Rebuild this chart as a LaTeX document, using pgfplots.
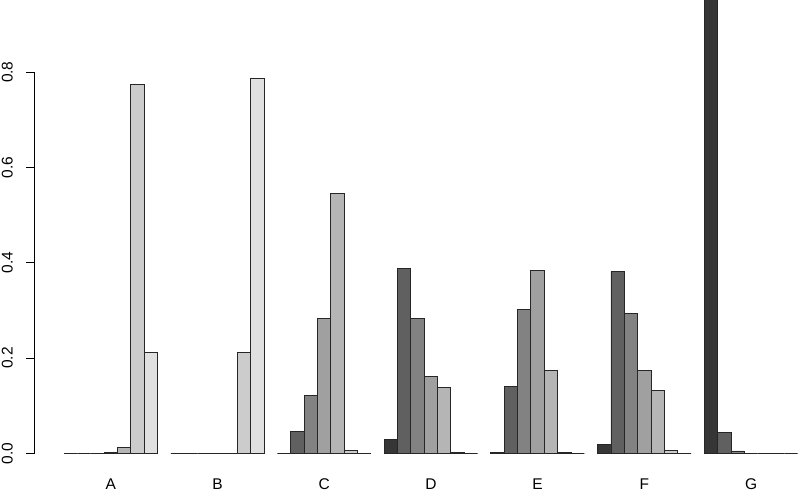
\documentclass[border=0pt]{standalone}
\usepackage{pgfplots}
\pgfplotsset{compat=1.18}
\usepackage{pgfplotstable}
\usepackage{fontspec}
\setmainfont{Liberation Sans}
\usetikzlibrary{calc}

\definecolor{g1}{HTML}{363636}
\definecolor{g2}{HTML}{606060}
\definecolor{g3}{HTML}{828282}
\definecolor{g4}{HTML}{A0A0A0}
\definecolor{g5}{HTML}{B5B5B5}
\definecolor{g6}{HTML}{CCCCCC}
\definecolor{g7}{HTML}{E0E0E0}

% one row per group (A..G), one column per bar
\pgfplotstableread{
grp s1     s2    s3    s4    s5     s6     s7
A   0      0     0     0.002 0.0126 0.775  0.211
B   0      0     0     0     0      0.211  0.787
C   0      0.046 0.122 0.283 0.546  0.007  0
D   0.030  0.389 0.283 0.162 0.138  0.002  0
E   0.002  0.140 0.301 0.384 0.173  0.002  0
F   0.0196 0.382 0.293 0.173 0.132  0.0055 0
G   0.97   0.044 0.005 0     0      0      0
}\probs

\begin{document}
\begin{tikzpicture}
\begin{axis}[
    scale only axis,
    width=765.3pt, height=472.4pt,
    xmin=-1.2, xmax=56.17,
    ymin=-0.04, ymax=0.9515,
    ybar, bar width=1, bar shift=0pt,
    axis line style={draw=none},
    xtick={4.5,12.5,20.5,28.5,36.5,44.5,52.5},
    xticklabels={A,B,C,D,E,F,G},
    xtick style={draw=none},
    xticklabel style={anchor=north, inner sep=0pt},
    xticklabel shift=-2.5pt,
    ytick={0,0.2,0.4,0.6,0.8},
    ytick pos=left,
    tick align=outside,
    major tick length=8.7pt,
    ytick style={black, line width=0.8pt},
    yticklabel style={rotate=90, anchor=south, inner sep=0pt},
    yticklabel shift=13pt,
    yticklabel={\pgfmathprintnumber[fixed, fixed zerofill, precision=1]{\tick}},
    /pgf/number format/assume math mode=true,
    tick label style={font=\fontsize{15.5}{18}\selectfont},
    every axis plot/.append style={draw=black!85, line width=0.9pt},
]
\addplot[fill=g1] table[x expr=\coordindex*8+1.5, y=s1] {\probs};
\addplot[fill=g2] table[x expr=\coordindex*8+2.5, y=s2] {\probs};
\addplot[fill=g3] table[x expr=\coordindex*8+3.5, y=s3] {\probs};
\addplot[fill=g4] table[x expr=\coordindex*8+4.5, y=s4] {\probs};
\addplot[fill=g5] table[x expr=\coordindex*8+5.5, y=s5] {\probs};
\addplot[fill=g6] table[x expr=\coordindex*8+6.5, y=s6] {\probs};
\addplot[fill=g7] table[x expr=\coordindex*8+7.5, y=s7] {\probs};
\coordinate (ya) at (axis cs:-1.2,0);
\coordinate (yb) at (axis cs:-1.2,0.8);
\end{axis}
\draw[line width=0.8pt, black] (ya) -- (yb);
\pgfresetboundingbox
\path[use as bounding box] ($(current axis.south west)+(-34.7pt,-19.6pt)$) rectangle (current axis.north east);
\end{tikzpicture}
\end{document}
